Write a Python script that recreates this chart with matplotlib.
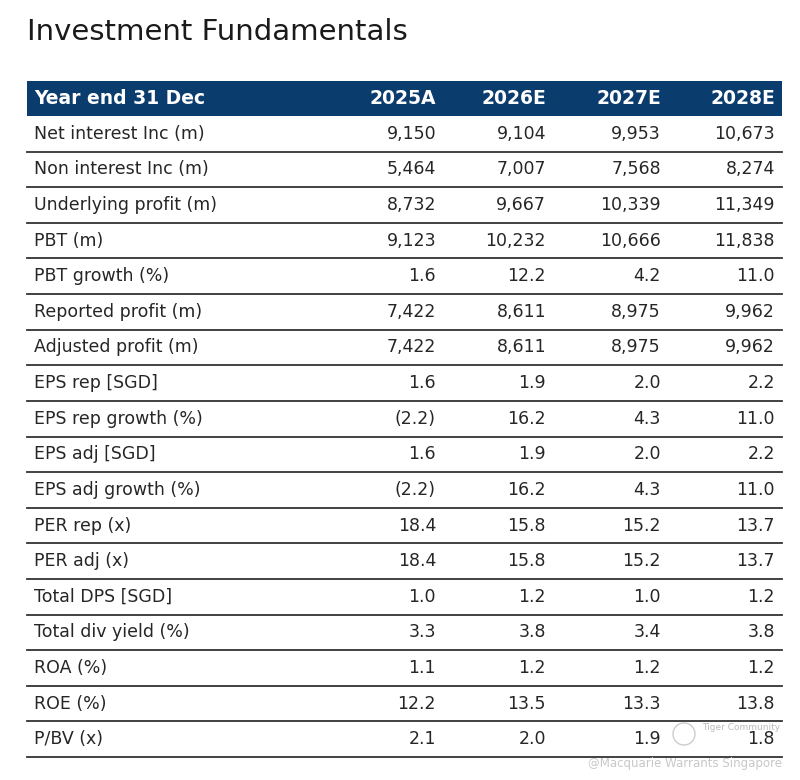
import matplotlib.pyplot as plt

years = ["2025A", "2026E", "2027E", "2028E"]
row_labels = [
    "Net interest Inc (m)", "Non interest Inc (m)", "Underlying profit (m)", "PBT (m)",
    "PBT growth (%)", "Reported profit (m)", "Adjusted profit (m)", "EPS rep [SGD]",
    "EPS rep growth (%)", "EPS adj [SGD]", "EPS adj growth (%)", "PER rep (x)",
    "PER adj (x)", "Total DPS [SGD]", "Total div yield (%)", "ROA (%)", "ROE (%)", "P/BV (x)",
]
col_2025 = ["9,150", "5,464", "8,732", "9,123", "1.6", "7,422", "7,422", "1.6", "(2.2)",
            "1.6", "(2.2)", "18.4", "18.4", "1.0", "3.3", "1.1", "12.2", "2.1"]
col_2026 = ["9,104", "7,007", "9,667", "10,232", "12.2", "8,611", "8,611", "1.9", "16.2",
            "1.9", "16.2", "15.8", "15.8", "1.2", "3.8", "1.2", "13.5", "2.0"]
col_2027 = ["9,953", "7,568", "10,339", "10,666", "4.2", "8,975", "8,975", "2.0", "4.3",
            "2.0", "4.3", "15.2", "15.2", "1.0", "3.4", "1.2", "13.3", "1.9"]
col_2028 = ["10,673", "8,274", "11,349", "11,838", "11.0", "9,962", "9,962", "2.2", "11.0",
            "2.2", "11.0", "13.7", "13.7", "1.2", "3.8", "1.2", "13.8", "1.8"]
columns = [col_2025, col_2026, col_2027, col_2028]

NAVY = "#0b3c6e"
W, H = 800, 780
left, right = 27, 782
head_top, head_bot = 81, 116
row_h = (757 - head_bot) / len(row_labels)
col_right = [436, 546, 661, 775]

fig = plt.figure(figsize=(W / 100, H / 100), dpi=100)
ax = fig.add_axes([0, 0, 1, 1])
ax.set_xlim(0, W)
ax.set_ylim(H, 0)
ax.axis("off")

ax.text(left, 32, "Investment Fundamentals", fontsize=21, color="#1a1a1a", va="center", ha="left")

# header band
ax.add_patch(plt.Rectangle((left, head_top), right - left, head_bot - head_top, color=NAVY, lw=0))
hy = (head_top + head_bot) / 2
ax.text(34, hy, "Year end 31 Dec", fontsize=13.5, fontweight="bold", color="white", va="center")
for x, y in zip(col_right, years):
    ax.text(x, hy, y, fontsize=13.5, fontweight="bold", color="white", va="center", ha="right")

for i, label in enumerate(row_labels):
    top = head_bot + i * row_h
    cy = top + row_h / 2
    ax.text(34, cy, label, fontsize=12.5, color="#262626", va="center")
    for x, col in zip(col_right, columns):
        ax.text(x, cy, col[i], fontsize=12.5, color="#262626", va="center", ha="right")
    ax.plot([left, right], [top + row_h, top + row_h], color="#333333", lw=1.3)

# watermark
ax.add_patch(plt.Circle((684, 734), 11, fill=False, ec="#cccccc", lw=1))
ax.text(702, 727, "Tiger Community", fontsize=6.5, color="#bbbbbb", va="center")
ax.text(782, 763, "@Macquarie Warrants Singapore", fontsize=8.5, color="#c8c8c8", va="center", ha="right")

fig.savefig("out.png", dpi=100, facecolor="white")
